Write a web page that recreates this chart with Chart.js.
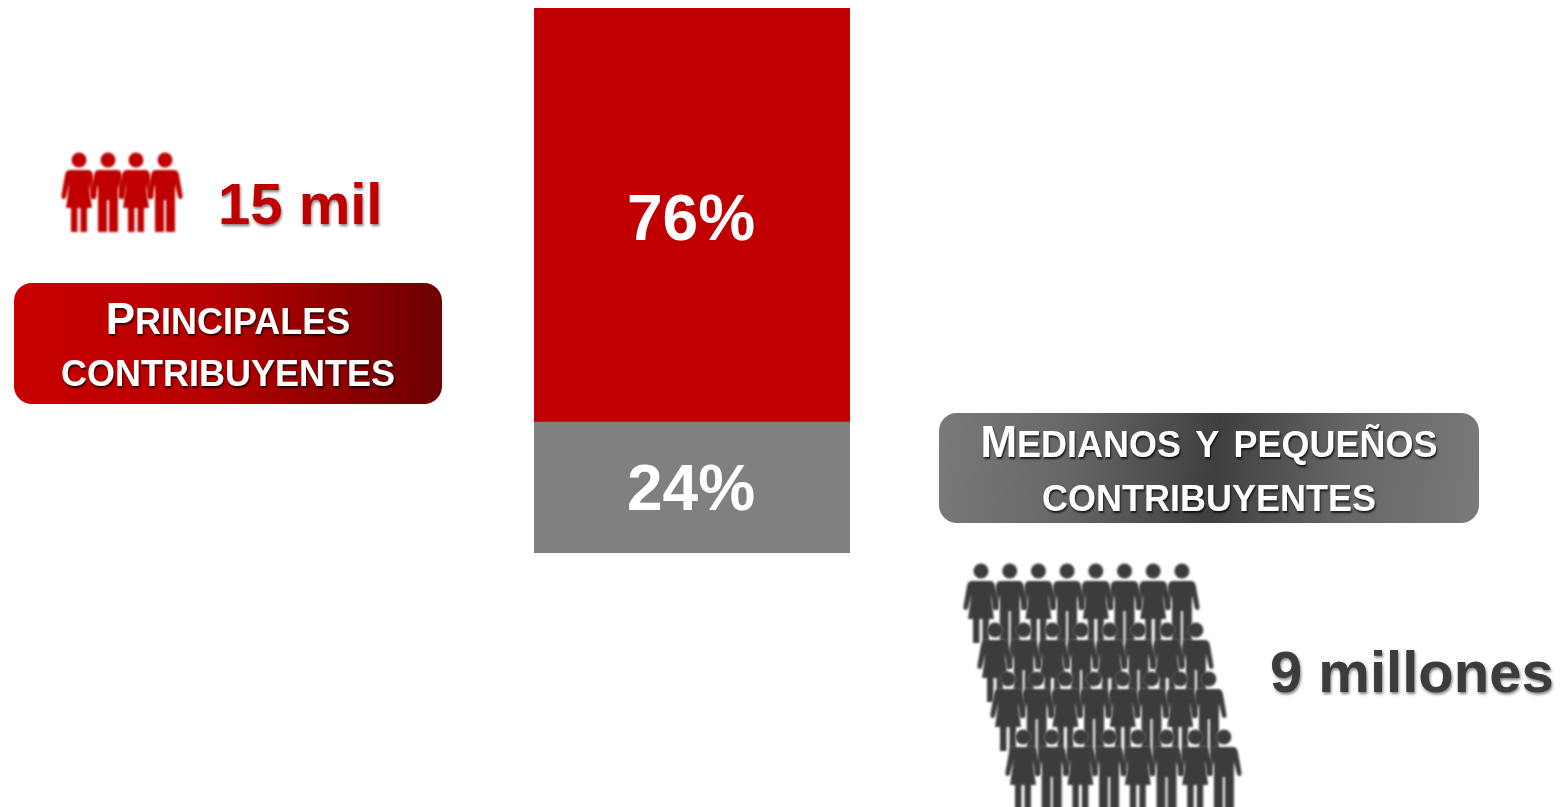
<!DOCTYPE html>
<html lang="es">
<head>
<meta charset="utf-8">
<title>Contribuyentes</title>
<script src="https://cdn.jsdelivr.net/npm/chart.js@4"></script>
<style>
html,body{margin:0;padding:0;background:#fff;width:1563px;height:807px;overflow:hidden}
#stage{position:relative;width:1563px;height:807px;overflow:hidden;font-family:"Liberation Sans",Arial,sans-serif;font-weight:bold}
canvas{position:absolute;left:0;top:0}
.badge{position:absolute;border-radius:18px;color:#fff;text-align:center;text-shadow:1px 2px 2px rgba(0,0,0,.75)}
.badge div{position:absolute;left:0;right:0;white-space:nowrap;line-height:50px;height:50px;filter:blur(.6px)}
.sc{font-variant:small-caps;font-size:51px}
.cap{font-size:44px}
.count{position:absolute;font-size:58px;line-height:66px;white-space:nowrap;text-shadow:1px 2px 3px rgba(0,0,0,.5);filter:blur(.7px)}
</style>
</head>
<body>
<div id="stage">
<canvas id="c" width="1563" height="807"></canvas>
<div class="badge" style="left:14px;top:283px;width:428px;height:121px;background:linear-gradient(90deg,#c80000 0%,#b80000 45%,#6c0000 100%)">
  <div style="top:9px"><span class="cap">P</span><span class="sc">rincipales</span></div>
  <div style="top:61px"><span class="sc">contribuyentes</span></div>
</div>
<div class="badge" style="left:939px;top:413px;width:540px;height:110px;background:linear-gradient(97deg,#7a7a7a 0%,#666 25%,#3f3f3f 51%,#666 75%,#7a7a7a 100%)">
  <div style="top:2px"><span class="cap">M</span><span class="sc">edianos y pequeños</span></div>
  <div style="top:56px"><span class="sc">contribuyentes</span></div>
</div>
<div class="count" style="left:218px;top:171px;color:#c00000">15 mil</div>
<div class="count" style="left:1270px;top:639px;color:#3c3c3c">9 millones</div>
</div>
<script>
const categories = ['Contribuyentes'];
const seriesNames = ['Medianos y pequeños contribuyentes', 'Principales contribuyentes'];
const medianosValues = [24];
const principalesValues = [76];
const seriesColors = ['#808080', '#c00000'];

const FEMALE = new Path2D('M-9 10H9Q13 10 14 15L17.5 35Q18 39 15.5 39Q13.5 39 13 37L9.5 23L13 48H8V72H1.5V48H-1.5V72H-8V48H-13L-9.5 23L-13 37Q-13.5 39 -15.5 39Q-18 39 -17.5 35L-14 15Q-13 10 -9 10Z');
const MALE = new Path2D('M-9 10H9Q13 10 14 15L17.5 35Q18 39 15.5 39Q13.5 39 13 37L10 24V72H1V40H-1V72H-10V24L-13 37Q-13.5 39 -15.5 39Q-18 39 -17.5 35L-14 15Q-13 10 -9 10Z');

function person(ctx, x, y, female, color) {
  ctx.save();
  ctx.translate(x, y);
  ctx.fillStyle = color;
  ctx.strokeStyle = 'rgba(255,255,255,.4)';
  ctx.lineWidth = 1;
  const body = female ? FEMALE : MALE;
  ctx.stroke(body);
  ctx.fill(body);
  ctx.beginPath();
  ctx.arc(0, 0, 7.5, 0, Math.PI * 2);
  ctx.stroke();
  ctx.fill();
  ctx.restore();
}

const peoplePlugin = {
  id: 'people',
  afterDraw(chart) {
    const ctx = chart.ctx;
    ctx.save();
    ctx.filter = 'blur(.8px)';
    [79, 108, 136, 165].forEach((x, i) => person(ctx, x, 160, i % 2 === 0, '#c00000'));
    const rows = [[981, 571], [995, 630], [1008, 679], [1023, 737]];
    rows.forEach(([x0, y]) => {
      for (let i = 7; i >= 0; i--) person(ctx, x0 + i * 28.7, y, i % 2 === 0, '#3c3c3c');
    });
    ctx.restore();
  }
};

const barLabelPlugin = {
  id: 'barLabels',
  afterDatasetsDraw(chart) {
    const ctx = chart.ctx;
    ctx.save();
    ctx.fillStyle = '#fff';
    ctx.textAlign = 'center';
    ctx.textBaseline = 'middle';
    ctx.font = 'bold 64px "Liberation Sans", Arial, sans-serif';
    ctx.filter = 'blur(.6px)';
    chart.data.datasets.forEach((ds, i) => {
      chart.getDatasetMeta(i).data.forEach((bar, j) => {
        const yMid = (bar.y + bar.base) / 2;
        ctx.fillText(ds.data[j] + '%', bar.x - 1, yMid + (i === 1 ? 7 : 5));
      });
    });
    ctx.restore();
  }
};

new Chart(document.getElementById('c'), {
  type: 'bar',
  data: {
    labels: categories,
    datasets: [
      { label: seriesNames[0], data: medianosValues, backgroundColor: seriesColors[0] },
      { label: seriesNames[1], data: principalesValues, backgroundColor: seriesColors[1] }
    ]
  },
  options: {
    responsive: false,
    animation: false,
    devicePixelRatio: 1,
    layout: { padding: { left: 534, right: 713, top: 8, bottom: 254 } },
    datasets: { bar: { barPercentage: 1, categoryPercentage: 1, borderWidth: 0 } },
    plugins: { legend: { display: false }, title: { display: false }, tooltip: { enabled: false } },
    scales: {
      x: { stacked: true, display: false },
      y: { stacked: true, display: false, min: 0, max: 100 }
    }
  },
  plugins: [barLabelPlugin, peoplePlugin]
});
</script>
</body>
</html>
